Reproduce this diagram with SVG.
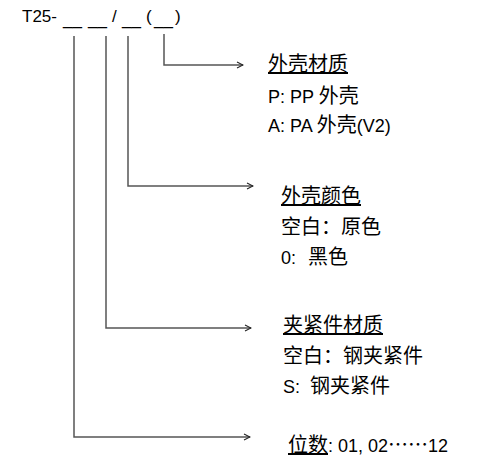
<svg xmlns="http://www.w3.org/2000/svg" width="483" height="475" viewBox="0 0 483 475">
<style>
text{font-family:"Liberation Sans","Noto Sans CJK SC",sans-serif;font-size:18px;fill:#000}
.c{font-family:"Noto Sans CJK SC",sans-serif;font-size:20px}
.h{text-decoration:underline}
.t{font-size:17px}
.ln{fill:none;stroke:#555;stroke-width:1.5}
</style>
<defs>
<marker id="ar" markerWidth="8" markerHeight="8" refX="7" refY="4" orient="auto" markerUnits="userSpaceOnUse">
<path d="M1,1 L7,4 L1,7" fill="none" stroke="#222" stroke-width="1.1"/>
</marker>
</defs>
<rect width="483" height="475" fill="#fff"/>
<g id="code">
<text class="t"><tspan x="22" y="22">T25-</tspan><tspan x="63" y="25">__</tspan><tspan x="88" y="25">__</tspan><tspan x="112" y="22">/</tspan><tspan x="122" y="25">__</tspan><tspan x="146" y="22">(</tspan><tspan x="154" y="25">__</tspan><tspan x="175" y="22">)</tspan></text>
</g>
<g id="connectors">
<path class="ln" d="M164,34 V65 H243" marker-end="url(#ar)"/>
<path class="ln" d="M128,36 V186 H253" marker-end="url(#ar)"/>
<path class="ln" d="M106,36 V328 H251" marker-end="url(#ar)"/>
<path class="ln" d="M74,36 V437 H250" marker-end="url(#ar)"/>
</g>
<g id="shell-material">
<text x="268" y="71" class="c h">外壳材质</text>
<text x="268" y="103">P: PP <tspan class="c">外壳</tspan></text>
<text x="268" y="132">A: PA <tspan class="c">外壳</tspan>(V2)</text>
</g>
<g id="shell-color">
<text x="281" y="203" class="c h">外壳颜色</text>
<text x="281" y="234" class="c">空白：原色</text>
<text x="281" y="264">0:<tspan class="c" x="308">黑色</tspan></text>
</g>
<g id="clamp-material">
<text x="283" y="332" class="c h">夹紧件材质</text>
<text x="283" y="363" class="c">空白：钢夹紧件</text>
<text x="283" y="393">S:<tspan class="c" x="310">钢夹紧件</tspan></text>
</g>
<g id="digits">
<text x="288" y="452"><tspan class="c h">位数</tspan>: 01, 02<tspan class="c">……</tspan>12</text>
</g>
</svg>
